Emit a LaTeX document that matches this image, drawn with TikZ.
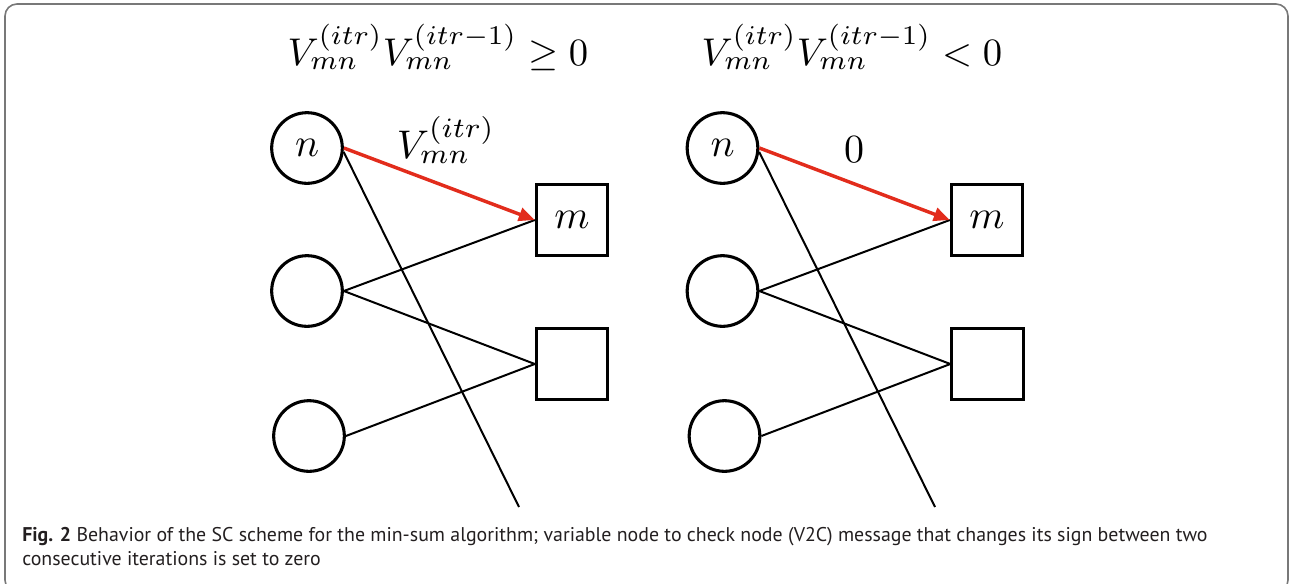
\documentclass[tikz,border=0pt]{standalone}
\usepackage{graphicx}
\usepackage{fontspec}
\newfontfamily\capfont{PT Sans}
\usetikzlibrary{arrows.meta}
\definecolor{frameGray}{RGB}{120,120,120}
\definecolor{msgRed}{RGB}{226,44,28}
\definecolor{capText}{RGB}{35,31,32}
% math set at 10pt and enlarged
\newcommand{\bigmath}[2][3]{\scalebox{#1}{\fontsize{10}{12}\selectfont$#2$}}
\tikzset{
  mathtext/.style={inner sep=0pt},
  varnode/.style={circle, draw, line width=2.3pt, minimum size=53pt, inner sep=0pt},
  chknode/.style={rectangle, draw, line width=2.3pt, minimum size=53.5pt, inner sep=0pt},
  edge/.style={line width=1.5pt},
  msg/.style={line width=2.6pt, draw=msgRed, -{Triangle[length=12pt,width=10pt,fill=msgRed]}},
}
\begin{document}
\begin{tikzpicture}[x=0.75pt,y=-0.75pt]
\useasboundingbox (0,0) rectangle (1291,583);
\begin{scope}
  \clip (0,0) rectangle (1291,583);
  \draw[frameGray, line width=1.2pt, rounded corners=9pt] (5,4) rectangle (1288,592);
\end{scope}

% left panel: sign unchanged
\node[mathtext, anchor=base] (tL) at (438,65) {\bigmath[2.9]{V_{mn}^{(itr)}V_{mn}^{(itr-1)} \geq 0}};
\node[varnode] (nL) at (307,148) {\bigmath{n}};
\node[varnode] (v2L) at (307,291) {};
\node[varnode] (v3L) at (309,436) {};
\node[chknode] (mL) at (572,220) {\bigmath{m}};
\node[chknode] (c2L) at (572,364) {};
\coordinate (eL) at (519,507);
\draw[edge] (nL.-6) -- (eL);
\draw[edge] (v2L.east) -- (mL.west);
\draw[edge] (v2L.east) -- (c2L.west);
\draw[edge] (v3L.east) -- (c2L.west);
\draw[msg] (nL.east) -- (mL.west);
\node[mathtext] (lL) at (446,140) {\bigmath{V_{mn}^{(itr)}}};

% right panel: sign changed, message set to zero
\node[mathtext, anchor=base] (tR) at (852,65) {\bigmath[2.9]{V_{mn}^{(itr)}V_{mn}^{(itr-1)} < 0}};
\node[varnode] (nR) at (722.5,148) {\bigmath{n}};
\node[varnode] (v2R) at (722.5,291) {};
\node[varnode] (v3R) at (724.5,436) {};
\node[chknode] (mR) at (987,220) {\bigmath{m}};
\node[chknode] (c2R) at (987.5,364) {};
\coordinate (eR) at (935,507);
\draw[edge] (nR.-6) -- (eR);
\draw[edge] (v2R.east) -- (mR.west);
\draw[edge] (v2R.east) -- (c2R.west);
\draw[edge] (v3R.east) -- (c2R.west);
\draw[msg] (nR.east) -- (mR.west);
\node[mathtext] (lR) at (854,150) {\bigmath{0}};

% caption
\node[anchor=north west, inner sep=0pt, align=left, text=capText,
      font=\capfont\fontsize{14.9}{18}\selectfont] (cap) at (22,527)
  {\textbf{Fig. 2} Behavior of the SC scheme for the min-sum algorithm; variable node to check node (V2C) message that changes its sign between two\\
   consecutive iterations is set to zero};
\end{tikzpicture}
\end{document}
